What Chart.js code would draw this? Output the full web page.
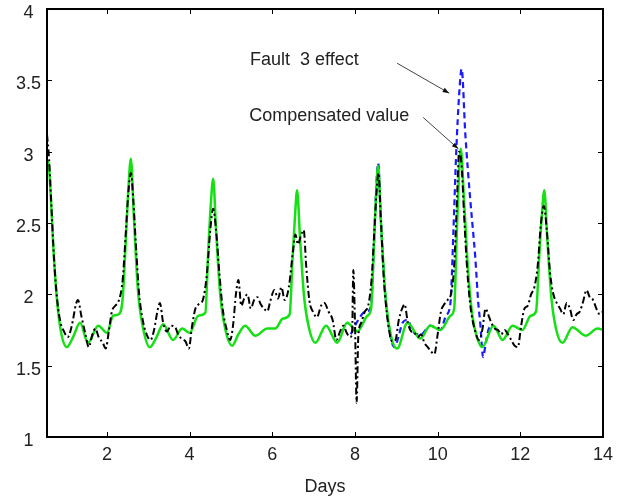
<!DOCTYPE html>
<html>
<head>
<meta charset="utf-8">
<script src="https://cdn.jsdelivr.net/npm/chart.js@4.4.1/dist/chart.umd.min.js"></script>
<style>
  html, body { margin: 0; padding: 0; background: #fff; }
  #wrap { width: 623px; height: 501px; }
</style>
</head>
<body>
<div id="wrap"><canvas id="chart"></canvas></div>
<script>
// green solid line (model / compensated)
const greenX = [0.55, 0.58, 0.63, 0.7, 0.78, 0.88, 1.03, 1.18, 1.35, 1.54, 1.79, 2.0, 2.15, 2.28, 2.38, 2.46, 2.52, 2.58, 2.65, 2.75, 2.87, 3.04, 3.2, 3.36, 3.6, 3.82, 4.0, 4.21, 4.38, 4.45, 4.51, 4.57, 4.64, 4.74, 4.86, 5.03, 5.18, 5.34, 5.59, 5.88, 6.07, 6.26, 6.42, 6.49, 6.55, 6.6, 6.67, 6.77, 6.89, 7.04, 7.3, 7.57, 7.81, 8.06, 8.3, 8.39, 8.46, 8.51, 8.56, 8.63, 8.73, 8.85, 9.02, 9.27, 9.58, 9.82, 10.07, 10.31, 10.4, 10.46, 10.51, 10.56, 10.64, 10.74, 10.84, 10.95, 11.08, 11.35, 11.57, 11.81, 12.05, 12.25, 12.38, 12.46, 12.52, 12.58, 12.65, 12.75, 12.87, 13.02, 13.26, 13.58, 13.87, 14.0];
const greenY = [2.88, 2.93, 2.75, 2.35, 2.0, 1.75, 1.63, 1.7, 1.8, 1.66, 1.78, 1.73, 1.85, 1.86, 1.97, 2.4, 2.75, 2.95, 2.55, 2.03, 1.77, 1.63, 1.7, 1.79, 1.68, 1.76, 1.73, 1.85, 1.87, 2.3, 2.62, 2.81, 2.45, 2.0, 1.76, 1.64, 1.72, 1.78, 1.71, 1.76, 1.76, 1.83, 1.86, 2.25, 2.55, 2.73, 2.4, 1.98, 1.76, 1.66, 1.78, 1.66, 1.8, 1.74, 1.85, 1.9, 2.35, 2.7, 2.9, 2.5, 2.02, 1.74, 1.62, 1.8, 1.69, 1.78, 1.75, 1.85, 1.9, 2.4, 2.8, 3.02, 2.65, 2.15, 1.85, 1.7, 1.63, 1.78, 1.68, 1.78, 1.75, 1.85, 1.88, 2.28, 2.55, 2.73, 2.4, 1.98, 1.75, 1.66, 1.77, 1.71, 1.76, 1.75];

// black dash-dot line (measured)
const blackX = [0.55, 0.6, 0.66, 0.72, 0.8, 0.88, 0.96, 1.05, 1.15, 1.25, 1.3, 1.38, 1.48, 1.56, 1.65, 1.72, 1.8, 1.9, 1.97, 2.05, 2.12, 2.2, 2.28, 2.38, 2.46, 2.52, 2.58, 2.64, 2.7, 2.78, 2.88, 2.96, 3.05, 3.14, 3.22, 3.28, 3.36, 3.45, 3.55, 3.65, 3.72, 3.8, 3.9, 3.98, 4.06, 4.14, 4.22, 4.32, 4.42, 4.5, 4.57, 4.64, 4.72, 4.8, 4.9, 4.98, 5.05, 5.12, 5.18, 5.25, 5.32, 5.4, 5.48, 5.56, 5.64, 5.72, 5.8, 5.88, 5.95, 6.05, 6.14, 6.22, 6.3, 6.4, 6.5, 6.56, 6.62, 6.7, 6.76, 6.82, 6.9, 6.98, 7.08, 7.18, 7.26, 7.36, 7.46, 7.55, 7.64, 7.72, 7.8, 7.88, 7.93, 7.96, 8.0, 8.04, 8.08, 8.15, 8.24, 8.32, 8.4, 8.47, 8.53, 8.57, 8.63, 8.7, 8.8, 8.9, 8.98, 9.06, 9.14, 9.2, 9.28, 9.36, 9.44, 9.52, 9.6, 9.68, 9.76, 9.84, 9.92, 10.0, 10.08, 10.16, 10.24, 10.32, 10.4, 10.46, 10.52, 10.58, 10.64, 10.72, 10.8, 10.9, 11.0, 11.08, 11.16, 11.22, 11.3, 11.38, 11.46, 11.54, 11.62, 11.7, 11.78, 11.86, 11.94, 12.02, 12.1, 12.18, 12.26, 12.34, 12.42, 12.5, 12.57, 12.64, 12.72, 12.8, 12.88, 12.96, 13.04, 13.12, 13.2, 13.28, 13.36, 13.44, 13.52, 13.6, 13.68, 13.76, 13.84, 13.92, 14.0];
const blackY = [3.12, 2.95, 2.6, 2.25, 1.95, 1.8, 1.74, 1.7, 1.78, 1.93, 1.96, 1.85, 1.72, 1.63, 1.72, 1.76, 1.7, 1.66, 1.62, 1.75, 1.88, 1.92, 1.95, 2.1, 2.45, 2.72, 2.85, 2.65, 2.35, 2.0, 1.8, 1.72, 1.68, 1.75, 1.88, 1.94, 1.8, 1.74, 1.78, 1.77, 1.72, 1.69, 1.67, 1.62, 1.78, 1.9, 1.93, 1.96, 2.15, 2.45, 2.6, 2.45, 2.15, 1.9, 1.75, 1.68, 1.78, 2.0, 2.1, 1.92, 1.97, 2.0, 1.9, 1.96, 1.98, 1.93, 1.9, 1.88, 1.95, 2.03, 1.97, 2.05, 1.96, 2.05, 2.3, 2.42, 2.35, 2.42, 2.45, 2.2, 1.95, 1.88, 1.84, 1.92, 1.94, 1.88, 1.82, 1.68, 1.74, 1.78, 1.73, 1.7, 1.72, 2.17, 1.8, 1.24, 1.7, 1.8, 1.88, 1.92, 2.1, 2.45, 2.75, 2.85, 2.5, 2.1, 1.8, 1.67, 1.68, 1.82, 1.9, 1.93, 1.8, 1.74, 1.73, 1.7, 1.72, 1.66, 1.63, 1.6, 1.58, 1.72, 1.88, 1.93, 1.96, 2.0, 2.2, 2.6, 3.0, 2.9, 2.55, 2.15, 1.9, 1.75, 1.68, 1.75, 1.9, 1.86, 1.8, 1.76, 1.75, 1.72, 1.75, 1.72, 1.68, 1.64, 1.63, 1.78, 1.9, 1.92, 2.0, 2.05, 2.2, 2.5, 2.62, 2.45, 2.15, 2.0, 1.94, 1.9, 1.86, 1.94, 1.9, 1.82, 1.86, 1.88, 1.95, 2.03, 1.98, 1.96, 1.9, 1.86, 1.88];

// blue dashed line (fault 3 effect), only where it leaves the green line
const blueX = [7.9, 8.0, 8.1, 8.2, 8.3, 8.39, 8.46, 8.51, 8.56, 8.63, 8.73, 8.85, 8.96, 9.05, 9.15, 9.27, 9.4, 9.5, 9.6, 9.82, 10.07, 10.2, 10.31, 10.38, 10.45, 10.52, 10.58, 10.67, 10.79, 10.86, 10.91, 10.98, 11.03, 11.1, 11.16, 11.24, 11.35];
const blueY = [1.72, 1.78, 1.83, 1.87, 1.88, 1.92, 2.35, 2.72, 2.92, 2.5, 2.02, 1.72, 1.63, 1.7, 1.8, 1.82, 1.74, 1.72, 1.72, 1.78, 1.75, 1.85, 1.94, 2.43, 3.0, 3.4, 3.58, 3.12, 2.66, 2.43, 2.26, 1.95, 1.8, 1.56, 1.65, 1.76, 1.78];

const xTicks = [2, 4, 6, 8, 10, 12, 14];
const yTicks = [1, 1.5, 2, 2.5, 3, 3.5, 4];

// annotation texts and arrows, in data units
const notes = [
  { text: "Fault  3 effect", x: 5.46, y: 3.64, from: [9.02, 3.62], to: [10.28, 3.41] },
  { text: "Compensated value", x: 5.44, y: 3.25, from: [9.65, 3.24], to: [10.5, 3.02] }
];

const toPoints = (xs, ys) => xs.map((x, i) => ({ x: x, y: ys[i] }));

const frameAndTicks = {
  id: "frameAndTicks",
  afterDatasetsDraw(chart) {
    const { ctx, chartArea: a, scales } = chart;
    ctx.save();
    ctx.strokeStyle = "#000";
    ctx.lineWidth = 1;
    ctx.beginPath();
    xTicks.forEach((t) => {
      const px = Math.round(scales.x.getPixelForValue(t)) + 0.5;
      ctx.moveTo(px, a.bottom); ctx.lineTo(px, a.bottom - 5);
      ctx.moveTo(px, a.top); ctx.lineTo(px, a.top + 5);
    });
    yTicks.forEach((t) => {
      const py = Math.round(scales.y.getPixelForValue(t)) + 0.5;
      ctx.moveTo(a.left, py); ctx.lineTo(a.left + 5, py);
      ctx.moveTo(a.right, py); ctx.lineTo(a.right - 5, py);
    });
    ctx.stroke();
    ctx.lineWidth = 2;
    ctx.strokeRect(a.left, a.top, a.right - a.left, a.bottom - a.top);

    // annotations
    ctx.font = "18px 'Liberation Sans', Arial, sans-serif";
    ctx.fillStyle = "#222";
    ctx.textBaseline = "middle";
    ctx.textAlign = "left";
    notes.forEach((n) => {
      ctx.fillText(n.text, scales.x.getPixelForValue(n.x), scales.y.getPixelForValue(n.y));
      const x1 = scales.x.getPixelForValue(n.from[0]), y1 = scales.y.getPixelForValue(n.from[1]);
      const x2 = scales.x.getPixelForValue(n.to[0]), y2 = scales.y.getPixelForValue(n.to[1]);
      ctx.strokeStyle = "#444";
      ctx.lineWidth = 1;
      ctx.beginPath();
      ctx.moveTo(x1, y1); ctx.lineTo(x2, y2);
      ctx.stroke();
      const ang = Math.atan2(y2 - y1, x2 - x1);
      ctx.fillStyle = "#111";
      ctx.beginPath();
      ctx.moveTo(x2, y2);
      ctx.lineTo(x2 - 7 * Math.cos(ang - 0.35), y2 - 7 * Math.sin(ang - 0.35));
      ctx.lineTo(x2 - 7 * Math.cos(ang + 0.35), y2 - 7 * Math.sin(ang + 0.35));
      ctx.closePath();
      ctx.fill();
      ctx.fillStyle = "#222";
    });
    ctx.restore();
  }
};

const tickFont = { family: "'Liberation Sans', Arial, sans-serif", size: 18 };

new Chart(document.getElementById("chart"), {
  type: "line",
  data: {
    datasets: [
      {
        label: "Measured",
        data: toPoints(blackX, blackY),
        borderColor: "#000",
        borderWidth: 2,
        borderDash: [7, 3, 2, 3],
        pointRadius: 0,
        cubicInterpolationMode: "monotone",
      },
      {
        label: "Compensated",
        data: toPoints(greenX, greenY),
        borderColor: "#14e014",
        borderWidth: 2.5,
        pointRadius: 0,
        cubicInterpolationMode: "monotone",
      },
      {
        label: "Fault 3",
        data: toPoints(blueX, blueY),
        borderColor: "#1a1aff",
        borderWidth: 2.2,
        borderDash: [6, 4],
        pointRadius: 0,
        cubicInterpolationMode: "monotone",
      },
    ],
  },
  options: {
    responsive: true,
    maintainAspectRatio: false,
    animation: false,
    layout: { padding: { top: 9, right: 20, left: 0, bottom: 0 } },
    plugins: {
      legend: { display: false },
      tooltip: { enabled: false },
    },
    scales: {
      x: {
        type: "linear",
        min: 0.55,
        max: 14,
        afterBuildTicks: (s) => { s.ticks = xTicks.map((v) => ({ value: v })); },
        afterFit: (s) => { s.height = 64; s.paddingLeft = 0; s.paddingRight = 0; },
        grid: { display: false, drawTicks: false },
        border: { display: false },
        ticks: { color: "#222", font: tickFont, padding: 7, maxRotation: 0 },
        title: { display: true, text: "Days", color: "#222", font: tickFont, padding: { top: 0, bottom: 3 } },
      },
      y: {
        type: "linear",
        min: 1,
        max: 4,
        afterBuildTicks: (s) => { s.ticks = yTicks.map((v) => ({ value: v })); },
        afterFit: (s) => { s.width = 47; s.paddingTop = 0; s.paddingBottom = 0; },
        grid: { display: false, drawTicks: false },
        border: { display: false },
        ticks: {
          color: "#222",
          font: tickFont,
          padding: 6,
          crossAlign: "center",
          labelOffset: 4,
          callback: (v) => String(v),
        },
      },
    },
  },
  plugins: [frameAndTicks],
});
</script>
</body>
</html>
